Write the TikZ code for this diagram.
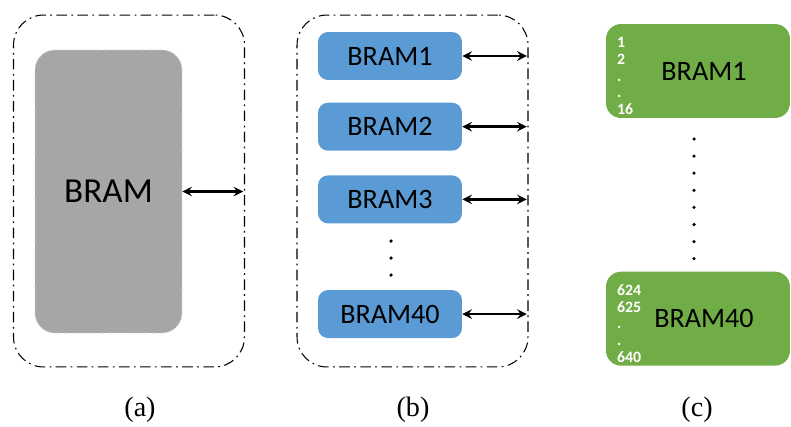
\documentclass[tikz,border=0pt]{standalone}
\usepackage{fontspec}
\setmainfont{Carlito}
\newfontfamily\capfont{Liberation Serif}
\usetikzlibrary{positioning,arrows}

\definecolor{bramgray}{HTML}{A6A6A6}
\definecolor{bramblue}{HTML}{5B9BD5}
\definecolor{bramgreen}{HTML}{70AD47}

\begin{document}
\begin{tikzpicture}[x=0.02cm, y=-0.02cm,
    framebox/.style={rectangle, draw=black, line width=0.6pt, rounded corners=0.6cm,
        dash pattern=on 6pt off 2.5pt on 1pt off 2.5pt,
        minimum width=4.62cm, minimum height=7.04cm},
    graybox/.style={rectangle, fill=bramgray, draw=black!20, densely dashed, rounded corners=0.4cm,
        minimum width=2.94cm, minimum height=5.66cm, font=\fontsize{20}{24}\selectfont},
    bluebox/.style={rectangle, fill=bramblue, rounded corners=0.2cm,
        minimum width=2.88cm, minimum height=0.96cm, font=\fontsize{16}{19}\selectfont},
    greenbox/.style={rectangle, fill=bramgreen, rounded corners=0.3cm,
        minimum width=3.68cm, minimum height=1.88cm, font=\fontsize{16}{19}\selectfont,
        execute at begin node={\hspace*{0.24cm}}},
    numlist/.style={white, inner sep=0pt, align=left, anchor=west,
        font=\fontsize{9}{9.6}\bfseries\selectfont},
    bus/.style={<->, >=stealth, line width=1.4pt},
    caption/.style={font=\capfont\fontsize{16}{19}\selectfont}
    ]
        \useasboundingbox (0,0) rectangle (791,426);

        %(a)
        \node[framebox] (outA) at (129,191) {};
        \node[graybox]  (bram) at (108.5,191.5) {BRAM};
        \draw[bus] (bram.east) -- ([xshift=-1pt]bram.east -| outA.east);

        %(b)
        \node[framebox] (outB) at (412.5,191) {};
        \node[bluebox]  (b1)  at (390,56)         {BRAM1};
        \node[bluebox]  (b2)  [below=0.44cm of b1] {BRAM2};
        \node[bluebox]  (b3)  [below=0.48cm of b2] {BRAM3};
        \node[bluebox]  (b40) [below=1.32cm of b3] {BRAM40};
        \foreach \n in {b1,b2,b3,b40}
            \draw[bus] (\n.east) -- ([xshift=-1pt]\n.east -| outB.east);
        \foreach \y in {241,258,275}
            \fill (391,\y) circle (1pt);

        %(c)
        \node[greenbox] (c1)  at (698,71)          {BRAM1};
        \node[greenbox] (c40) [below=3.06cm of c1] {BRAM40};
        \node[numlist]  (n1)  at ([xshift=0.22cm, yshift=-0.1cm]c1.west)  {1\\2\\.\\.\\16};
        \node[numlist]  (n40) at ([xshift=0.22cm, yshift=-0.1cm]c40.west) {624\\625\\.\\.\\640};
        \foreach \i in {0,...,7}
            \fill (694,139+17.1*\i) circle (1pt);

        %Captions
        \node[caption] (capA) at (140,410) {(a)};
        \node[caption] (capB) at (413,410) {(b)};
        \node[caption] (capC) at (697,410) {(c)};
    \end{tikzpicture}
\end{document}
